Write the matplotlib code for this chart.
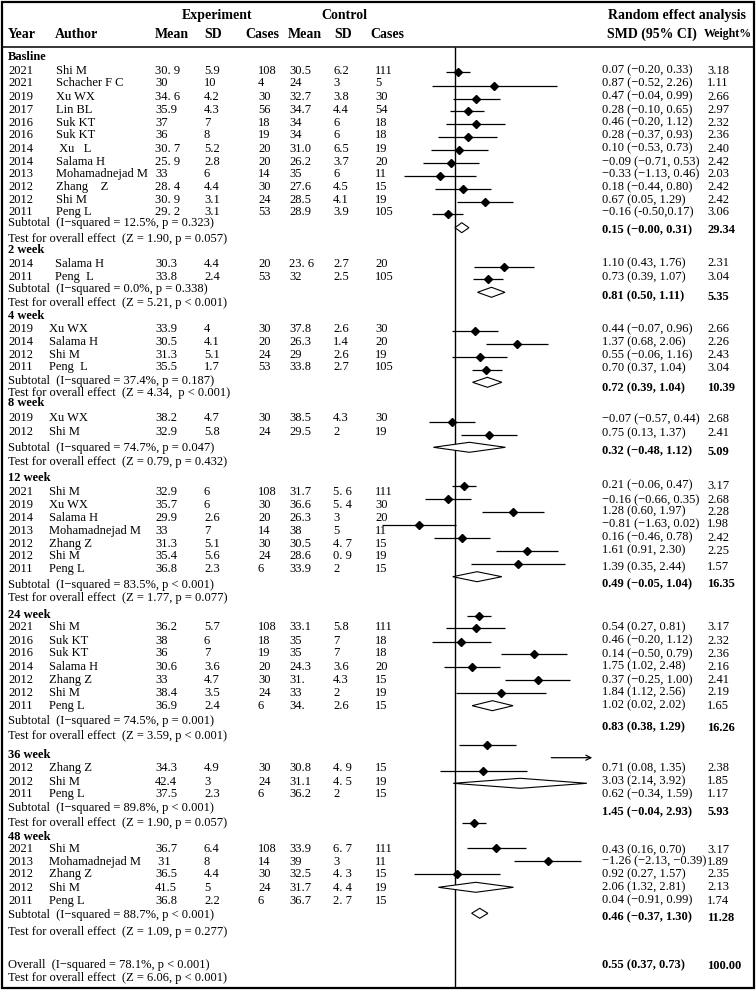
import re
import matplotlib
matplotlib.use('Agg')
import matplotlib.pyplot as plt
from matplotlib.patches import Polygon, Rectangle

plt.rcParams['font.family'] = ['Liberation Serif', 'DejaVu Serif']

# ---- data (year, author, exp mean, sd, n, ctrl mean, sd, n, SMD (95% CI), weight)
section_names = ['Basline', '2 week', '4 week', '8 week', '12 week', '24 week', '36 week', '48 week']

basline_rows = [
    ('2021', 'Shi M', '30. 9', '5.9', '108', '30.5', '6.2', '111', '0.07 (−0.20, 0.33)', '3.18'),
    ('2021', 'Schacher F C', '30', '10', '4', '24', '3', '5', '0.87 (−0.52, 2.26)', '1.11'),
    ('2019', 'Xu WX', '34. 6', '4.2', '30', '32.7', '3.8', '30', '0.47 (−0.04, 0.99)', '2.66'),
    ('2017', 'Lin BL', '35.9', '4.3', '56', '34.7', '4.4', '54', '0.28 (−0.10, 0.65)', '2.97'),
    ('2016', 'Suk KT', '37', '7', '18', '34', '6', '18', '0.46 (−0.20, 1.12)', '2.32'),
    ('2016', 'Suk KT', '36', '8', '19', '34', '6', '18', '0.28 (−0.37, 0.93)', '2.36'),
    ('2014', ' Xu   L', '30. 7', '5.2', '20', '31.0', '6.5', '19', '0.10 (−0.53, 0.73)', '2.40'),
    ('2014', 'Salama H', '25. 9', '2.8', '20', '26.2', '3.7', '20', '−0.09 (−0.71, 0.53)', '2.42'),
    ('2013', 'Mohamadnejad M', '33', '6', '14', '35', '6', '11', '−0.33 (−1.13, 0.46)', '2.03'),
    ('2012', 'Zhang    Z', '28. 4', '4.4', '30', '27.6', '4.5', '15', '0.18 (−0.44, 0.80)', '2.42'),
    ('2012', 'Shi M', '30. 9', '3.1', '24', '28.5', '4.1', '19', '0.67 (0.05, 1.29)', '2.42'),
    ('2011', 'Peng L', '29. 2', '3.1', '53', '28.9', '3.9', '105', '−0.16 (-0.50,0.17)', '3.06'),
]
week2_rows = [
    ('2014', 'Salama H', '30.3', '4.4', '20', '23. 6', '2.7', '20', '1.10 (0.43, 1.76)', '2.31'),
    ('2011', 'Peng  L', '33.8', '2.4', '53', '32', '2.5', '105', '0.73 (0.39, 1.07)', '3.04'),
]
week4_rows = [
    ('2019', 'Xu WX', '33.9', '4', '30', '37.8', '2.6', '30', '0.44 (−0.07, 0.96)', '2.66'),
    ('2014', 'Salama H', '30.5', '4.1', '20', '26.3', '1.4', '20', '1.37 (0.68, 2.06)', '2.26'),
    ('2012', 'Shi M', '31.3', '5.1', '24', '29', '2.6', '19', '0.55 (−0.06, 1.16)', '2.43'),
    ('2011', 'Peng  L', '35.5', '1.7', '53', '33.8', '2.7', '105', '0.70 (0.37, 1.04)', '3.04'),
]
week8_rows = [
    ('2019', 'Xu WX', '38.2', '4.7', '30', '38.5', '4.3', '30', '−0.07 (−0.57, 0.44)', '2.68'),
    ('2012', 'Shi M', '32.9', '5.8', '24', '29.5', '2', '19', '0.75 (0.13, 1.37)', '2.41'),
]
week12_rows = [
    ('2021', 'Shi M', '32.9', '6', '108', '31.7', '5. 6', '111', '0.21 (−0.06, 0.47)', '3.17'),
    ('2019', 'Xu WX', '35.7', '6', '30', '36.6', '5. 4', '30', '−0.16 (−0.66, 0.35)', '2.68'),
    ('2014', 'Salama H', '29.9', '2.6', '20', '26.3', '3', '20', '1.28 (0.60, 1.97)', '2.28'),
    ('2013', 'Mohamadnejad M', '33', '7', '14', '38', '5', '11', '−0.81 (−1.63, 0.02)', '1.98'),
    ('2012', 'Zhang Z', '31.3', '5.1', '30', '30.5', '4. 7', '15', '0.16 (−0.46, 0.78)', '2.42'),
    ('2012', 'Shi M', '35.4', '5.6', '24', '28.6', '0. 9', '19', '1.61 (0.91, 2.30)', '2.25'),
    ('2011', 'Peng L', '36.8', '2.3', '6', '33.9', '2', '15', '1.39 (0.35, 2.44)', '1.57'),
]
week24_rows = [
    ('2021', 'Shi M', '36.2', '5.7', '108', '33.1', '5.8', '111', '0.54 (0.27, 0.81)', '3.17'),
    ('2016', 'Suk KT', '38', '6', '18', '35', '7', '18', '0.46 (−0.20, 1.12)', '2.32'),
    ('2016', 'Suk KT', '36', '7', '19', '35', '7', '18', '0.14 (−0.50, 0.79)', '2.36'),
    ('2014', 'Salama H', '30.6', '3.6', '20', '24.3', '3.6', '20', '1.75 (1.02, 2.48)', '2.16'),
    ('2012', 'Zhang Z', '33', '4.7', '30', '31.', '4.3', '15', '0.37 (−0.25, 1.00)', '2.41'),
    ('2012', 'Shi M', '38.4', '3.5', '24', '33', '2', '19', '1.84 (1.12, 2.56)', '2.19'),
    ('2011', 'Peng L', '36.9', '2.4', '6', '34.', '2.6', '15', '1.02 (0.02, 2.02)', '1.65'),
]
week36_rows = [
    ('2012', 'Zhang Z', '34.3', '4.9', '30', '30.8', '4. 9', '15', '0.71 (0.08, 1.35)', '2.38'),
    ('2012', 'Shi M', '42.4', '3', '24', '31.1', '4. 5', '19', '3.03 (2.14, 3.92)', '1.85'),
    ('2011', 'Peng L', '37.5', '2.3', '6', '36.2', '2', '15', '0.62 (−0.34, 1.59)', '1.17'),
]
week48_rows = [
    ('2021', 'Shi M', '36.7', '6.4', '108', '33.9', '6. 7', '111', '0.43 (0.16, 0.70)', '3.17'),
    ('2013', 'Mohamadnejad M', ' 31', '8', '14', '39', '3', '11', '−1.26 (−2.13, −0.39)', '1.89'),
    ('2012', 'Zhang Z', '36.5', '4.4', '30', '32.5', '4. 3', '15', '0.92 (0.27, 1.57)', '2.35'),
    ('2012', 'Shi M', '41.5', '5', '24', '31.7', '4. 4', '19', '2.06 (1.32, 2.81)', '2.13'),
    ('2011', 'Peng L', '36.8', '2.2', '6', '36.7', '2. 7', '15', '0.04 (−0.91, 0.99)', '1.74'),
]
section_rows = [basline_rows, week2_rows, week4_rows, week8_rows,
                week12_rows, week24_rows, week36_rows, week48_rows]

subtotal_het = ['12.5%, p = 0.323', '0.0%, p = 0.338', '37.4%, p = 0.187', '74.7%, p = 0.047',
                '83.5%, p < 0.001', '74.5%, p = 0.001', '89.8%, p < 0.001', '88.7%, p < 0.001']
subtotal_z = ['Z = 1.90, p = 0.057', 'Z = 5.21, p < 0.001', 'Z = 4.34,  p < 0.001', 'Z = 0.79, p = 0.432',
              'Z = 1.77, p = 0.077', 'Z = 3.59, p < 0.001', 'Z = 1.90, p = 0.057', 'Z = 1.09, p = 0.277']
subtotal_smd = ['0.15 (−0.00, 0.31)', '0.81 (0.50, 1.11)', '0.72 (0.39, 1.04)', '0.32 (−0.48, 1.12)',
                '0.49 (−0.05, 1.04)', '0.83 (0.38, 1.29)', '1.45 (−0.04, 2.93)', '0.46 (−0.37, 1.30)']
subtotal_weight = ['29.34', '5.35', '10.39', '5.09', '16.35', '16.26', '5.93', '11.28']

overall_het = '78.1%, p < 0.001'
overall_z = 'Z = 6.06, p < 0.001'
overall_smd = '0.55 (0.37, 0.73)'
overall_weight = '100.00'

# ---- layout (pixel rows of the original page)
W, H = 756, 991
head_y = [57.3, 250, 316, 403.5, 477.7, 615, 755, 836.7]
row_y = [
    [70.7, 83.3, 96.7, 110, 122.7, 135.3, 148.7, 162, 174, 187.3, 200, 212.3],
    [264, 277.3],
    [329.3, 342, 354.7, 367.3],
    [417.7, 431.7],
    [492.3, 505, 517.7, 531, 543.7, 556.3, 569],
    [627.3, 640.7, 653.3, 666.7, 680, 693.3, 706],
    [768.3, 781.7, 794],
    [849, 861.7, 874.3, 887.7, 901],
]
ci_text_y = [
    row_y[0], [263.3, 277.3], [329, 342.3, 355, 368.3], [419, 433.3],
    [485.7, 500, 511.7, 524.3, 537.7, 550.7, 567.3],
    [627.3, 640.7, 654, 666.7, 680, 692.3, 705.7],
    [768.3, 781, 794], [850, 861.7, 874.3, 887.3, 900.7],
]
sub_y = [223.3, 289.3, 380.7, 447.7, 585, 720.7, 807.7, 915]
test_y = [239.3, 303.3, 393, 461.7, 598.3, 736, 823.3, 931.7]
tot_text_y = [230, 296.7, 388.3, 451.7, 584, 727.7, 812.3, 917.7]
# rows at which the forest marks sit (None = not drawn)
mark_y = [
    [71.7, 85.7, 99, 111, 124, 136.7, 150, 162.7, 175.7, 189, 201.7, 214.3],
    [266.7, 279.3],
    [331, 343.7, 356.7, 369.7],
    [421.7, 434.7],
    [485.7, 499.3, 512.3, 525, 537.7, 551, 563.7],
    [615.7, 628.3, 641.7, 654.3, 667.3, 680.3, 692.7],
    [745, 757.7, 770.7],
    [822.7, None, 848.3, 861, 874],
]
diam_y = [227.7, 292.3, 382.3, 447.3, 576.7, 705.7, 783.3, 887.3]
overall_y, overall_test_y, overall_text_y, overall_diam_y = 965, 978.3, 965.7, 913.3

author_x = [56, 55, 49, 49, 49, 49, 49, 49]
col_x = [8, None, 155, 204, 258, 289, 333, 375]
smd_x, weight_x = 602, 707
zero_px, px_per_unit, x_clip = 455, 45.0, 3.05
fs = 9


def parse_ci(s):
    return [float(v.replace('−', '-')) for v in re.findall(r'[−-]?\d+\.\d+', s)]


fig = plt.figure(figsize=(W / 100, H / 100), dpi=100)
ax = fig.add_axes([0, 0, 1, 1])
ax.set_xlim(0, W)
ax.set_ylim(H, 0)
ax.axis('off')

fx = fig.add_axes([0, 0, 1, 1])
fx.set_xlim(-zero_px / px_per_unit, (W - zero_px) / px_per_unit)
fx.set_ylim(H, 0)
fx.axis('off')
fx.patch.set_alpha(0)

# frame and header
ax.add_patch(Rectangle((2, 2), W - 4.5, H - 5, fill=False, lw=1.6, ec='black'))
ax.hlines(47, 2, W - 2.5, color='black', lw=1.1)
hb = dict(fontsize=10, fontweight='bold', va='center')
ax.text(217, 15.7, 'Experiment', ha='center', **hb)
ax.text(344, 15.7, 'Control', ha='center', **hb)
for lbl, x in zip(['Year', 'Author', 'Mean', 'SD', 'Cases', 'Mean', 'SD', 'Cases'],
                  [8, 55, 155, 204, 245, 288, 334, 370]):
    ax.text(x, 34.3, lbl, ha='left', **hb)
ax.text(608, 16, 'Random effect analysis', ha='left', **hb)
ax.text(607, 34, 'SMD (95% CI)', ha='left', **hb)
ax.text(704, 34, 'Weight%', ha='left', fontsize=8.6, fontweight='bold', va='center')

fx.vlines(0, 47, H - 3, color='black', lw=1.0)

for k, name in enumerate(section_names):
    ax.text(8, head_y[k], name, fontsize=fs, fontweight='bold', va='center')
    for i, row in enumerate(section_rows[k]):
        y = row_y[k][i]
        for j, val in enumerate(row[:8]):
            x = author_x[k] if j == 1 else col_x[j]
            ax.text(x, y, val, fontsize=fs, va='center')
        ax.text(smd_x, ci_text_y[k][i], row[8], fontsize=fs, va='center')
        ax.text(weight_x, ci_text_y[k][i], row[9], fontsize=fs, va='center')

        est, lo, hi = parse_ci(row[8])
        my = mark_y[k][i]
        if my is None:
            continue
        if hi > x_clip:
            fx.annotate('', xy=(x_clip, my), xytext=(lo, my),
                        arrowprops=dict(arrowstyle='->', lw=0.9, color='black',
                                        mutation_scale=9, shrinkA=0, shrinkB=0))
        else:
            fx.hlines(my, lo, hi, color='black', lw=0.9)
            fx.plot(est, my, marker='D', ms=4.5, color='black', zorder=3)

    ax.text(8, sub_y[k], 'Subtotal  (I−squared = ' + subtotal_het[k] + ')', fontsize=fs, va='center')
    ax.text(8, test_y[k], 'Test for overall effect  (' + subtotal_z[k] + ')', fontsize=fs, va='center')
    ax.text(smd_x, tot_text_y[k], subtotal_smd[k], fontsize=fs, fontweight='bold', va='center')
    ax.text(weight_x, tot_text_y[k], subtotal_weight[k], fontsize=fs, fontweight='bold', va='center')

    est, lo, hi = parse_ci(subtotal_smd[k])
    dy = diam_y[k]
    fx.add_patch(Polygon([(lo, dy), (est, dy - 5), (hi, dy), (est, dy + 5)], closed=True,
                         fc='white', ec='black', lw=0.8, zorder=3))

ax.text(8, overall_y, 'Overall  (I−squared = ' + overall_het + ')', fontsize=fs, va='center')
ax.text(8, overall_test_y, 'Test for overall effect  (' + overall_z + ')', fontsize=fs, va='center')
ax.text(smd_x, overall_text_y, overall_smd, fontsize=fs, fontweight='bold', va='center')
ax.text(weight_x, overall_text_y, overall_weight, fontsize=fs, fontweight='bold', va='center')
est, lo, hi = parse_ci(overall_smd)
fx.add_patch(Polygon([(lo, overall_diam_y), (est, overall_diam_y - 5), (hi, overall_diam_y),
                      (est, overall_diam_y + 5)], closed=True, fc='white', ec='black', lw=0.8, zorder=3))

fig.savefig('out.png', dpi=100)
